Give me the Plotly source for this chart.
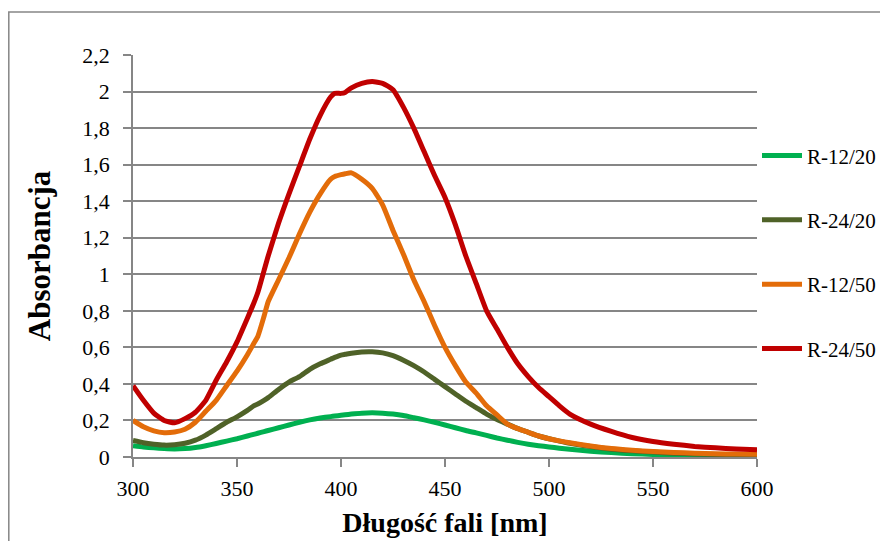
import plotly.graph_objects as go

wavelength = [300, 305, 310, 315, 320, 325, 330, 335, 340, 345, 350, 355, 358, 360, 363, 365,
              370, 375, 380, 385, 390, 395, 397, 400, 402, 405, 410, 415, 420, 425, 430, 435,
              440, 445, 450, 455, 460, 465, 470, 475, 480, 485, 490, 495, 500, 505, 510, 520,
              530, 540, 550, 560, 570, 580, 590, 600]

r_12_20 = [0.062, 0.055, 0.050, 0.046, 0.044, 0.046, 0.052, 0.062, 0.074, 0.087, 0.100, 0.115, 0.124, 0.130, 0.139, 0.145,
           0.160, 0.175, 0.190, 0.203, 0.213, 0.221, 0.224, 0.228, 0.231, 0.235, 0.240, 0.242, 0.240, 0.235, 0.227, 0.215,
           0.203, 0.190, 0.175, 0.160, 0.145, 0.132, 0.118, 0.104, 0.092, 0.080, 0.070, 0.062, 0.055, 0.048, 0.042, 0.032,
           0.024, 0.018, 0.014, 0.011, 0.009, 0.007, 0.006, 0.005]

r_24_20 = [0.090, 0.078, 0.070, 0.065, 0.067, 0.075, 0.092, 0.120, 0.155, 0.190, 0.220, 0.255, 0.280, 0.290, 0.310, 0.325,
           0.370, 0.410, 0.440, 0.480, 0.510, 0.535, 0.545, 0.558, 0.562, 0.568, 0.575, 0.576, 0.570, 0.555, 0.530, 0.500,
           0.465, 0.425, 0.385, 0.345, 0.305, 0.270, 0.235, 0.205, 0.180, 0.155, 0.135, 0.115, 0.100, 0.087, 0.075, 0.057,
           0.043, 0.034, 0.027, 0.021, 0.017, 0.014, 0.012, 0.011]

r_12_50 = [0.200, 0.165, 0.143, 0.133, 0.137, 0.152, 0.190, 0.250, 0.310, 0.390, 0.470, 0.560, 0.620, 0.660, 0.770, 0.850,
           0.970, 1.090, 1.220, 1.340, 1.440, 1.520, 1.535, 1.545, 1.550, 1.555, 1.520, 1.470, 1.380, 1.240, 1.110, 0.970,
           0.850, 0.720, 0.600, 0.500, 0.410, 0.350, 0.280, 0.230, 0.180, 0.155, 0.135, 0.115, 0.100, 0.088, 0.078, 0.060,
           0.046, 0.037, 0.030, 0.025, 0.021, 0.018, 0.016, 0.015]

r_24_50 = [0.390, 0.310, 0.240, 0.200, 0.187, 0.210, 0.245, 0.310, 0.420, 0.520, 0.630, 0.760, 0.840, 0.900, 1.020, 1.100,
           1.280, 1.440, 1.590, 1.740, 1.870, 1.970, 1.990, 1.990, 1.995, 2.020, 2.045, 2.055, 2.045, 2.010, 1.915, 1.800,
           1.670, 1.540, 1.420, 1.270, 1.100, 0.950, 0.800, 0.700, 0.600, 0.510, 0.440, 0.380, 0.330, 0.280, 0.235, 0.180,
           0.140, 0.107, 0.085, 0.070, 0.058, 0.050, 0.044, 0.040]

series_names = ["R-12/20", "R-24/20", "R-12/50", "R-24/50"]
series_values = [r_12_20, r_24_20, r_12_50, r_24_50]
series_colors = ["#00B050", "#4F6228", "#E36C09", "#C00000"]

y_ticks = [0, 0.2, 0.4, 0.6, 0.8, 1, 1.2, 1.4, 1.6, 1.8, 2, 2.2]
x_ticks = [300, 350, 400, 450, 500, 550, 600]

FONT = "Liberation Serif, Times New Roman, serif"
GRID = "#868686"

fig = go.Figure()
for name, vals, col in zip(series_names, series_values, series_colors):
    fig.add_trace(go.Scatter(
        x=wavelength, y=vals, name=name, mode="lines", legendgroup=name,
        line=dict(color=col, width=5, shape="spline", smoothing=0.5),
    ))

fig.update_layout(
    width=880, height=533,
    margin=dict(l=125, r=131, t=47, b=84, autoexpand=False),
    paper_bgcolor="white", plot_bgcolor="white",
    separators=", ",
    font=dict(family=FONT, color="black", size=21),
    showlegend=True,
    legend=dict(x=1.0, xanchor="left", y=0.80, yanchor="top",
                font=dict(family=FONT, size=21, color="black"),
                tracegroupgap=34, itemwidth=40, bgcolor="rgba(0,0,0,0)"),
    xaxis=dict(
        range=[300, 600], tickvals=x_ticks, ticks="outside", ticklen=8, tickwidth=1.5,
        tickcolor=GRID, showline=True, linecolor=GRID, linewidth=1.5, showgrid=False,
        zeroline=False, tickfont=dict(size=22, family=FONT), ticklabelstandoff=3,
        automargin=False,
        title=dict(text="<b>Długość fali [nm]</b>", font=dict(size=28, family=FONT), standoff=12),
    ),
    yaxis=dict(
        range=[0, 2.2], tickvals=y_ticks, ticks="outside", ticklen=8, tickwidth=1.5,
        tickcolor=GRID, showline=True, linecolor=GRID, linewidth=1.5, showgrid=True,
        gridcolor=GRID, gridwidth=1.5, zeroline=False, tickfont=dict(size=22, family=FONT),
        ticklabelstandoff=9, automargin=False,
        title=dict(text="<b>Absorbancja</b>", font=dict(size=31, family=FONT), standoff=22),
    ),
    shapes=[dict(type="rect", xref="paper", yref="paper",
                 x0=-124.2 / 624, x1=1.6, y0=-0.6, y1=(457 - 12) / 402,
                 line=dict(color=GRID, width=1.5), fillcolor="rgba(0,0,0,0)", layer="below")],
)

fig.write_html("out.html")
